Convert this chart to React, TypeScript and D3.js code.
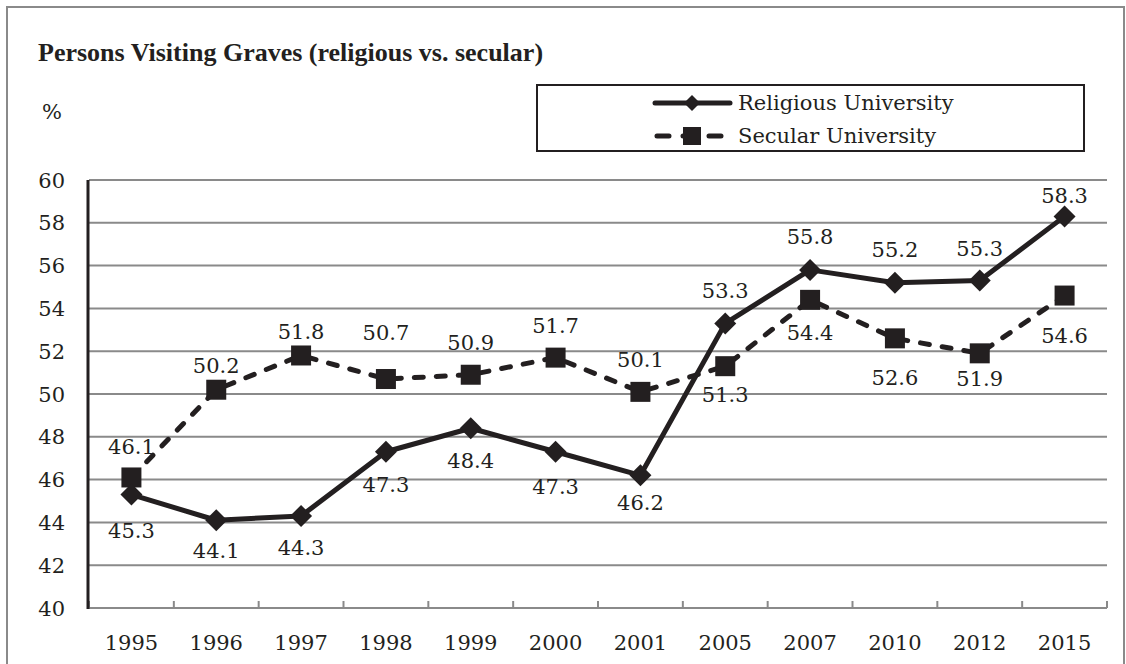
import React from "react";
import * as d3 from "d3";

const years = ["1995","1996","1997","1998","1999","2000","2001","2005","2007","2010","2012","2015"];
const religious = [45.3,44.1,44.3,47.3,48.4,47.3,46.2,53.3,55.8,55.2,55.3,58.3];
const secular = [46.1,50.2,51.8,50.7,50.9,51.7,50.1,51.3,54.4,52.6,51.9,54.6];
const yTicks = [40,42,44,46,48,50,52,54,56,58,60];
// label vertical nudges (px, label centre relative to point)
const relLabelDy = [36,30,31,33,32,35,27,-33,-33,-33,-32,-21];
const secLabelDy = [-31,-24,-24,-47,-32,-32,-32,28,33,39,25,40];

const W = 1126, H = 664;
const X0 = 89, X1 = 1107, YT = 180, YB = 608;
const INK = "#231f20";
const GRID = "#8a8a8a";
const FONT = "'DejaVu Serif', serif";

export default function App() {
  const x = d3.scaleBand<string>().domain(years).range([X0, X1]);
  const y = d3.scaleLinear().domain([40, 60]).range([YB, YT]);
  const cx = (i: number) => (x(years[i]) as number) + x.bandwidth() / 2;
  const line = d3.line<number>().x((_, i) => cx(i)).y((d) => y(d));
  const diamond = (px: number, py: number, r: number) =>
    `M${px},${py - r}L${px + r},${py}L${px},${py + r}L${px - r},${py}Z`;
  const fs = 21;
  const boundaries = years.map((yr) => x(yr) as number).concat([X1]);

  return (
    <svg width={W} height={H} style={{ position: "absolute", left: 0, top: 0, background: "#fff" }}>
      <rect x={0} y={0} width={W} height={H} fill="#fff" />
      <rect x={7} y={7} width={1117} height={700} fill="none" stroke="#8a8a8a" strokeWidth={2} />
      <text x={38} y={61} fontFamily="'Liberation Serif', serif" fontWeight="bold" fontSize={26} fill={INK}>
        Persons Visiting Graves (religious vs. secular)
      </text>
      <text x={42} y={119} fontFamily={FONT} fontSize={fs} fill={INK}>%</text>

      {/* legend */}
      <rect x={537} y={85} width={547} height={66} fill="#fff" stroke={INK} strokeWidth={2} />
      <line x1={655} x2={730} y1={103} y2={103} stroke={INK} strokeWidth={5} strokeLinecap="round" />
      <path d={diamond(692, 103, 8)} fill={INK} />
      <text x={738} y={110} fontFamily={FONT} fontSize={fs} fill={INK}>Religious University</text>
      <line x1={657} x2={728} y1={136} y2={136} stroke={INK} strokeWidth={5} strokeLinecap="round" strokeDasharray="12 14" />
      <rect x={683} y={127} width={18} height={18} fill={INK} />
      <text x={738} y={143} fontFamily={FONT} fontSize={fs} fill={INK}>Secular University</text>

      {/* grid */}
      {yTicks.filter((t) => t > 40).map((t) => (
        <line key={t} x1={X0} x2={X1} y1={y(t)} y2={y(t)} stroke={GRID} strokeWidth={2} />
      ))}
      <line x1={X0} x2={X1} y1={YB} y2={YB} stroke={GRID} strokeWidth={2} />
      {boundaries.map((bx, i) => (
        <line key={i} x1={bx} x2={bx} y1={YB} y2={YB - 7} stroke={GRID} strokeWidth={2} />
      ))}
      <line x1={X0 - 1} x2={X0 - 1} y1={YT} y2={YB + 1} stroke={INK} strokeWidth={3} />

      {yTicks.map((t) => (
        <text key={t} x={65} y={y(t)} dy="0.36em" textAnchor="end" fontFamily={FONT} fontSize={fs} fill={INK}>{t}</text>
      ))}
      {years.map((yr, i) => (
        <text key={yr} x={cx(i)} y={650} textAnchor="middle" fontFamily={FONT} fontSize={fs} fill={INK}>{yr}</text>
      ))}

      {/* series */}
      <path d={line(secular) as string} fill="none" stroke={INK} strokeWidth={5} strokeLinecap="round" strokeDasharray="9 13" />
      <path d={line(religious) as string} fill="none" stroke={INK} strokeWidth={5} strokeLinejoin="round" />
      {secular.map((v, i) => (
        <rect key={i} x={cx(i) - 10} y={y(v) - 10} width={20} height={20} fill={INK} />
      ))}
      {religious.map((v, i) => (
        <path key={i} d={diamond(cx(i), y(v), 11)} fill={INK} />
      ))}

      {religious.map((v, i) => (
        <text key={"r" + i} x={cx(i)} y={y(v) + relLabelDy[i]} dy="0.36em" textAnchor="middle" fontFamily={FONT} fontSize={fs} fill={INK}>{v.toFixed(1)}</text>
      ))}
      {secular.map((v, i) => (
        <text key={"s" + i} x={cx(i)} y={y(v) + secLabelDy[i]} dy="0.36em" textAnchor="middle" fontFamily={FONT} fontSize={fs} fill={INK}>{v.toFixed(1)}</text>
      ))}
    </svg>
  );
}
